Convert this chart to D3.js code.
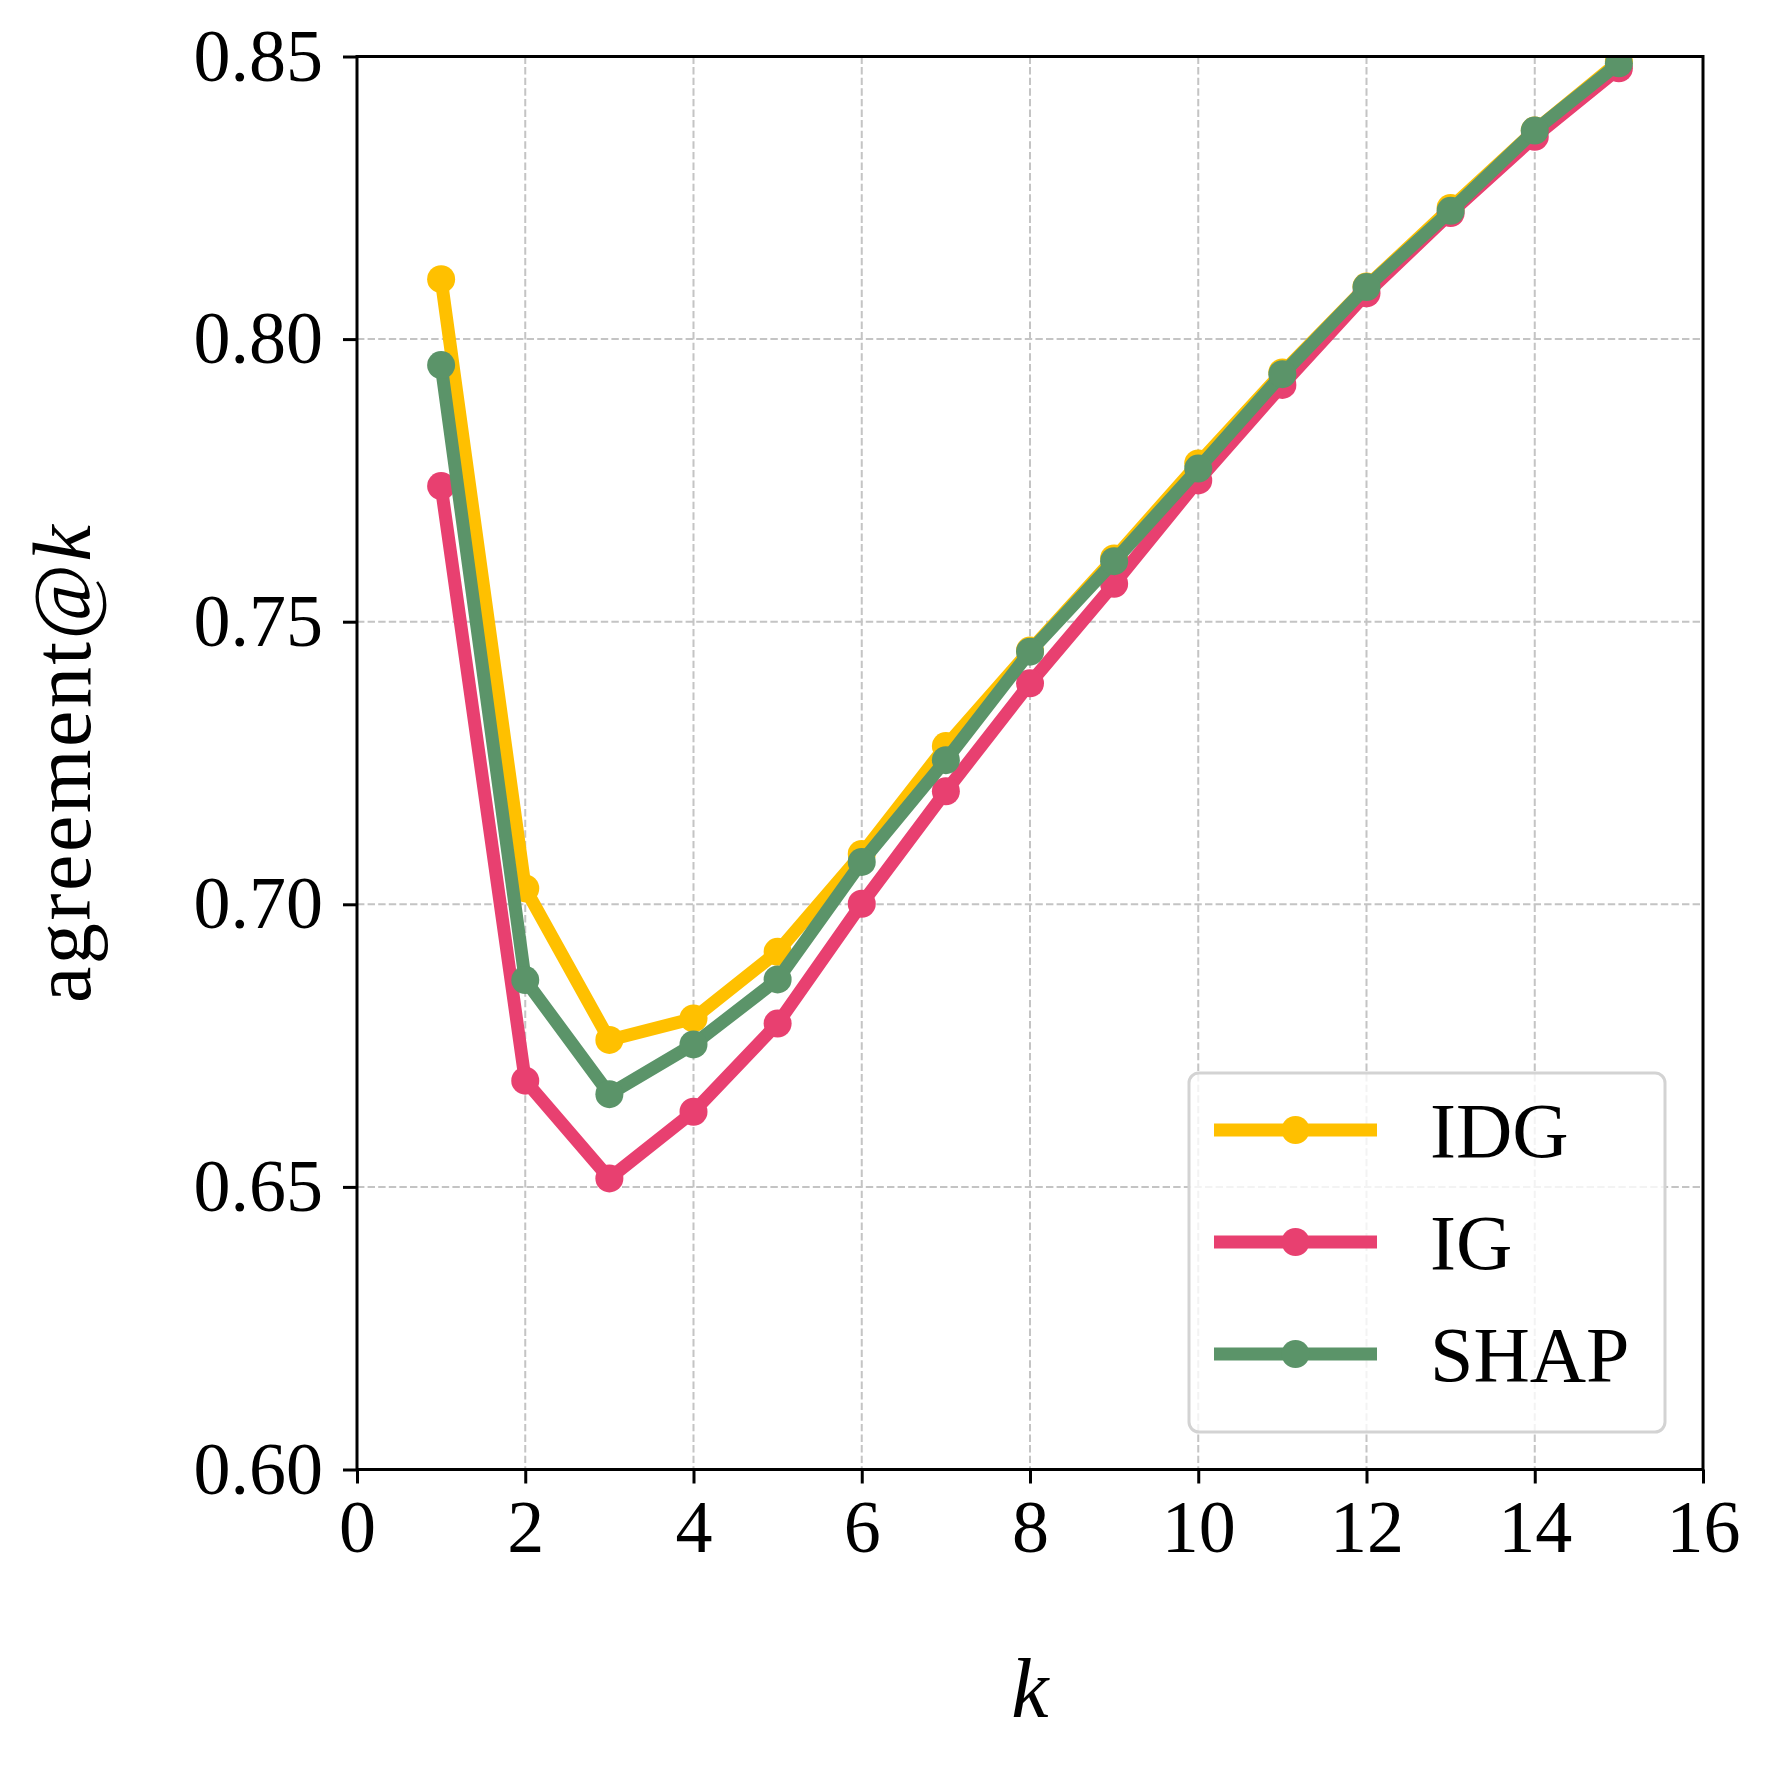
<!DOCTYPE html>
<html>
<head>
<meta charset="utf-8">
<style>
  body { margin: 0; background: #fff; }
  text { font-family: "Liberation Serif", "DejaVu Serif", serif; fill: #000; }
</style>
</head>
<body>
<script src="https://cdn.jsdelivr.net/npm/d3@7"></script>
<script>
// data
var kValues = [1, 2, 3, 4, 5, 6, 7, 8, 9, 10, 11, 12, 13, 14, 15];
var idg  = [0.8106, 0.7028, 0.6760, 0.6798, 0.6916, 0.7089, 0.7280, 0.7449, 0.7612, 0.7780, 0.7941, 0.8093, 0.8232, 0.8369, 0.8491];
var ig   = [0.7740, 0.6688, 0.6515, 0.6633, 0.6789, 0.7001, 0.7200, 0.7391, 0.7567, 0.7750, 0.7919, 0.8081, 0.8223, 0.8358, 0.8479];
var shap = [0.7954, 0.6866, 0.6664, 0.6752, 0.6867, 0.7075, 0.7255, 0.7447, 0.7607, 0.7771, 0.7938, 0.8092, 0.8227, 0.8369, 0.8488];
var seriesNames = ["IDG", "IG", "SHAP"];
var xTicks = [0, 2, 4, 6, 8, 10, 12, 14, 16];
var yTicks = [0.60, 0.65, 0.70, 0.75, 0.80, 0.85];

var colors = ["#ffc000", "#e84070", "#5b9469"];
var seriesVals = [idg, ig, shap];

var W = 1770, H = 1769;
// note: "top" is taken by window.top, so use own names
var pL = 357, pR = 1703, pT = 56.5, pB = 1469.5;

var svg = d3.select("body").append("svg")
  .attr("width", W).attr("height", H);

var x = d3.scaleLinear().domain([0, 16]).range([pL, pR]);
var y = d3.scaleLinear().domain([0.60, 0.85]).range([pB, pT]);

// grid
var grid = svg.append("g");
grid.selectAll("line.gx").data(xTicks.slice(1, -1)).enter().append("line")
  .attr("x1", d => x(d)).attr("x2", d => x(d))
  .attr("y1", pT).attr("y2", pB)
  .attr("stroke", "#c4c4c4").attr("stroke-width", 2)
  .attr("stroke-dasharray", "7.4,3.2");
grid.selectAll("line.gy").data(yTicks.slice(1, -1)).enter().append("line")
  .attr("x1", pL).attr("x2", pR)
  .attr("y1", d => y(d)).attr("y2", d => y(d))
  .attr("stroke", "#c4c4c4").attr("stroke-width", 2)
  .attr("stroke-dasharray", "7.4,3.2");

// clip to the axes box
svg.append("clipPath").attr("id", "plotclip").append("rect")
  .attr("x", pL).attr("y", pT).attr("width", pR - pL).attr("height", pB - pT);

var plot = svg.append("g").attr("clip-path", "url(#plotclip)");
var line = d3.line().x((d, i) => x(kValues[i])).y(d => y(d));

seriesVals.forEach(function(vals, s) {
  var g = plot.append("g");
  g.append("path").datum(vals)
    .attr("d", line)
    .attr("fill", "none")
    .attr("stroke", colors[s])
    .attr("stroke-width", 13)
    .attr("stroke-linejoin", "round");
  g.selectAll("circle").data(vals).enter().append("circle")
    .attr("cx", (d, i) => x(kValues[i]))
    .attr("cy", d => y(d))
    .attr("r", 14)
    .attr("fill", colors[s]);
});

// axes
var xAxis = d3.axisBottom(x).tickValues(xTicks).tickSize(14).tickSizeOuter(0).tickPadding(16)
  .tickFormat(d3.format("d"));
var gx = svg.append("g").attr("transform", "translate(0," + pB + ")").call(xAxis);
var yAxis = d3.axisLeft(y).tickValues(yTicks).tickSize(14).tickSizeOuter(0).tickPadding(20)
  .tickFormat(d3.format(".2f"));
var gy = svg.append("g").attr("transform", "translate(" + pL + ",0)").call(yAxis);

[gx, gy].forEach(function(g) {
  g.select(".domain").remove();
  g.selectAll(".tick line").attr("stroke", "#000").attr("stroke-width", 3);
  g.selectAll(".tick text").attr("font-size", 74)
    .attr("font-family", "Liberation Serif").attr("fill", "#000");
});

// frame
svg.append("rect")
  .attr("x", pL).attr("y", pT).attr("width", pR - pL).attr("height", pB - pT)
  .attr("fill", "none").attr("stroke", "#000").attr("stroke-width", 3);

// axis labels
svg.append("text")
  .attr("x", (pL + pR) / 2).attr("y", 1717)
  .attr("text-anchor", "middle").attr("font-size", 84)
  .attr("font-style", "italic").text("k");

var yl = svg.append("text")
  .attr("transform", "translate(90,764) rotate(-90)")
  .attr("text-anchor", "middle").attr("font-size", 82)
  .attr("textLength", 478).attr("lengthAdjust", "spacing");
yl.append("tspan").text("agreement@");
yl.append("tspan").attr("font-style", "italic").text("k");

// legend
var lg = svg.append("g");
lg.append("rect")
  .attr("x", 1189).attr("y", 1073).attr("width", 476).attr("height", 359)
  .attr("rx", 10).attr("ry", 10)
  .attr("fill", "#fff").attr("fill-opacity", 0.8)
  .attr("stroke", "#d3d3d3").attr("stroke-width", 3);

var rowY = [1130, 1242, 1354];
seriesNames.forEach(function(name, s) {
  lg.append("line")
    .attr("x1", 1214).attr("x2", 1377)
    .attr("y1", rowY[s]).attr("y2", rowY[s])
    .attr("stroke", colors[s]).attr("stroke-width", 13);
  lg.append("circle")
    .attr("cx", 1295.5).attr("cy", rowY[s]).attr("r", 14)
    .attr("fill", colors[s]);
  lg.append("text")
    .attr("x", 1430).attr("y", rowY[s] + 27)
    .attr("font-size", 78).text(name);
});
</script>
</body>
</html>
